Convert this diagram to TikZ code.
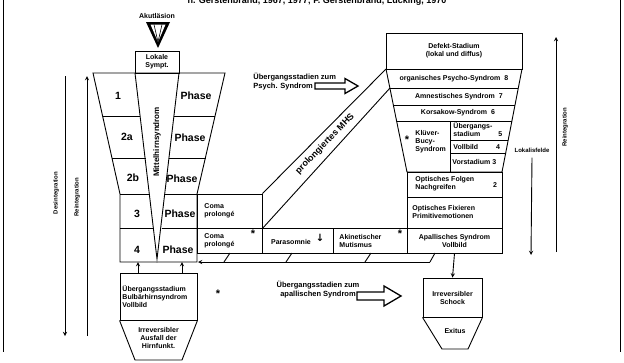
\documentclass[tikz,border=0pt]{standalone}
\usepackage{fontspec}
\setmainfont{Liberation Sans}
\newfontfamily\symfont{DejaVu Sans}
\usetikzlibrary{positioning,calc}

\tikzset{
  txt/.style={font=\bfseries\fontsize{7}{8}\selectfont,inner sep=0pt,align=center},
  txtl/.style={txt,align=left},
  phase/.style={font=\bfseries\fontsize{10.5}{11}\selectfont,inner sep=0pt},
  star/.style={txt,font=\bfseries\fontsize{11}{11}\selectfont},
  box/.style={draw,inner sep=0pt},
  hollow/.style={line width=1.3pt,line join=miter}
}

\begin{document}
\begin{tikzpicture}[x=1pt,y=-1pt,line width=0.9pt,>=stealth]
\useasboundingbox (0,0) rectangle (624,362);
\fill[white] (0,0) rectangle (624,362);
% frame and cut title
\draw (3,-10) -- (3,352);
\draw (620,-10) -- (620,352);
\begin{scope}
\clip (0,0) rectangle (624,6);
\node[txt,font=\bfseries\fontsize{9}{10}\selectfont,anchor=base] (title) at (317,3)
  {n. Gerstenbrand, 1967, 1977; F. Gerstenbrand, Lücking, 1970};
\end{scope}

% Akutlaesion
\node[txt] (akut) at (157,16) {Akutläsion};
\fill (146,22) -- (170,22) -- (158,48) -- cycle;
\fill[white] (150.5,24.5) -- (165.5,24.5) -- (158,42) -- cycle;
\draw[line width=0.6pt] (154,24.5) -- (158,42) -- (162,24.5);
\node[box,minimum width=44pt,minimum height=22pt,txt] (lokale) at (157,62) {Lokale\\Sympt.};

% left funnel
\draw (93,73) -- (225,73) -- (197,194) -- (197,262) -- (120,262) -- (120,194) -- cycle;
\draw (135,73) -- (157,259) -- (179,73);
\draw (102.6,116) -- (140.3,116);  \draw (174.1,116) -- (215,116);
\draw (112,158) -- (145.5,158);    \draw (169.4,158) -- (205.6,158);
\draw (120,194) -- (150,194);      \draw (165.3,194) -- (197,194);
\draw (120,228) -- (154.2,228);    \draw (161.5,228) -- (197,228);
\node[txt,font=\bfseries\fontsize{8}{9}\selectfont,rotate=90] (mhs) at (157,142) {Mittelhirnsyndrom};
\node[phase] (n1) at (118,96) {1};   \node[phase] (p1) at (196,96) {Phase};
\node[phase] (n2a) at (127,137) {2a}; \node[phase] (p2a) at (190,138) {Phase};
\node[phase] (n2b) at (133,178) {2b}; \node[phase] (p2b) at (182,179) {Phase};
\node[phase] (n3) at (137,214) {3};   \node[phase] (p3) at (180,214) {Phase};
\node[phase] (n4) at (137,250) {4};   \node[phase] (p4) at (178,250) {Phase};

% left arrows
\coordinate (dtop) at (65,76);  \coordinate (dbot) at (65,336);
\coordinate (rtop) at (87,76);  \coordinate (rbot) at (87,336);
\draw[->] (dtop) -- (dbot);
\draw[->] (rbot) -- (rtop);
\node[txt,font=\bfseries\fontsize{6}{7}\selectfont,rotate=90] (desint) at (56,193) {Desintegration};
\node[txt,font=\bfseries\fontsize{6}{7}\selectfont,rotate=90] (reint) at (77,197) {Reintegration};

% coma / bottom row
\node[box,minimum width=65pt,minimum height=34pt] (coma3) at (229.5,211) {};
\node[txtl,anchor=west] at (204,211) {Coma\\prolongé};
\node[box,minimum width=65pt,minimum height=25pt] (coma4) at (229.5,240.5) {};
\node[txtl,anchor=west] at (204,241) {Coma\\prolongé};
\node[star] at (253,234) {*};
\node[box,minimum width=71pt,minimum height=25pt] (paras) at (297.5,240.5) {};
\node[txtl] at (291,242) {Parasomnie};
\node[inner sep=0pt,font=\symfont\bfseries\fontsize{10}{10}\selectfont] at (320,238) {↓};
\node[box,minimum width=74pt,minimum height=25pt] (akin) at (370,240.5) {};
\node[txtl,anchor=west] at (339,241) {Akinetischer\\Mutismus};
\node[star] at (400,234) {*};

% prolongiertes MHS band
\draw (coma3.north east) -- (386,69);
\draw (coma3.south east) -- (390,88);
\node[txt,font=\bfseries\fontsize{9}{10}\selectfont,rotate=46] (prol) at (325,144) {prolongiertes MHS};

% right side
\node[box,minimum width=136pt,minimum height=36pt,txt] (defekt) at (454,51) {Defekt-Stadium\\(lokal und diffus)};
\draw (386,69) -- (407,172) -- (502,172) -- (522,69);
\draw (389.9,88) -- (518.3,88);
\draw (393.3,105) -- (515,105);
\draw (396.6,121) -- (511.9,121);
\draw (450,121) -- (450,172);
\draw (450,140) -- (508.2,140);
\draw (450,153) -- (505.7,153);
\node[txt] (org) at (454,79) {organisches Psycho-Syndrom\hspace{4pt}8};
\node[txt] (amn) at (459,96.5) {Amnestisches Syndrom\hspace{4pt}7};
\node[txt] (kors) at (458,113) {Korsakow-Syndrom\hspace{4pt}6};
\node[txtl,anchor=west] (kluev) at (415,142) {Klüver-\\Bucy-\\Syndrom};
\node[star] at (407,140) {*};
\node[txtl,anchor=west] (ueb5) at (453,130) {Übergangs-\\stadium\hspace{18pt}5};
\node[txtl,anchor=west] (voll4) at (453,146.5) {Vollbild\hspace{18pt}4};
\node[txtl,anchor=west] (vor3) at (452,162) {Vorstadium 3};
\node[box,minimum width=95pt,minimum height=25pt] (folgen) at (454.5,184.5) {};
\node[txtl,anchor=west] at (415,184) {Optisches Folgen\\Nachgreifen};
\node[txt] at (495,185) {2};
\node[box,minimum width=95pt,minimum height=31pt] (fix) at (454.5,212.5) {};
\node[txtl,anchor=west] at (412,212) {Optisches Fixieren\\Primitivemotionen};
\node[box,minimum width=95pt,minimum height=25pt,txt] (apall) at (454.5,240.5) {Apallisches Syndrom\\Vollbild};

% right arrows
\coordinate (rrbot) at (556,252); \coordinate (rrtop) at (556,37);
\draw[->] (rrbot) -- (rrtop);
\node[txt,font=\bfseries\fontsize{6}{7}\selectfont,rotate=90] (reint2) at (565,127) {Reintegration};
\node[txt,font=\bfseries\fontsize{6}{7}\selectfont] (lokfeld) at (532,150) {Lokalisfelde};
\coordinate (lfbot) at (531,255);
\draw[->] (lokfeld.south) ++(0,5) -- (lfbot);

% return band
\coordinate (bandend) at (430,262);
\coordinate (bandtip) at (198,262);
\draw[->] (bandend) -- (bandtip);
\draw (bandend) -- (435,253);
\foreach \x in {224,286,365} \draw (\x,262) -- (\x+6,253);

% transition texts and hollow arrows
\node[txtl,anchor=west,font=\bfseries\fontsize{7.5}{9}\selectfont] (psych) at (253,82) {Übergangsstadien zum\\Psych. Syndrom};
\draw[hollow] (315,83) -- (345,83) -- (345,78.5) -- (358,86) -- (345,93.5) -- (345,89) -- (315,89) -- cycle;
\node[txt,font=\bfseries\fontsize{7.5}{9}\selectfont] (apst) at (318,290) {Übergangsstadien zum\\apallischen Syndrom};
\node[star] at (218,294) {*};
\draw[hollow] (357,292) -- (384,292) -- (384,286) -- (401,296) -- (384,306) -- (384,300) -- (357,300) -- cycle;

% bottom boxes
\node[box,minimum width=59pt,minimum height=39pt,txt] (schock) at (452.5,297.5) {Irreversibler\\Schock};
\draw[->] (apall.south) -- (schock.north);
\draw (schock.south west) -- (442,349) -- (468,349) -- (schock.south east);
\node[txt] (exitus) at (455,331) {Exitus};

\node[box,minimum width=77pt,minimum height=47pt] (ueb) at (158.5,296.5) {};
\node[txtl,anchor=west] at (122,297) {Übergangsstadium\\Bulbärhirnsyndrom\\Vollbild};
\draw (ueb.south west) -- (135,360) -- (182,360) -- (ueb.south east);
\node[txt] (ausfall) at (158.5,338) {Irreversibler\\Ausfall der\\Hirnfunkt.};
\coordinate (f4l) at (138,262); \coordinate (f4r) at (182,262);
\draw[->] (ueb.north -| f4l) -- (f4l);
\draw[->] (ueb.north -| f4r) -- (f4r);
\end{tikzpicture}
\end{document}
